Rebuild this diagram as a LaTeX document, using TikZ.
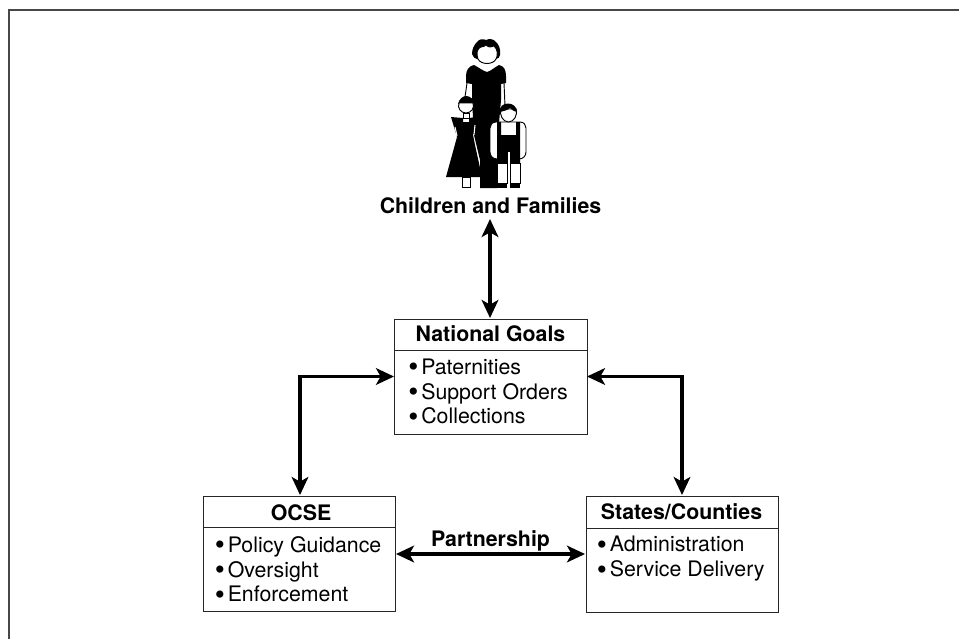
\documentclass[tikz,border=0pt]{standalone}
\usepackage{fontspec}
\setmainfont{TeX Gyre Heros}
\usetikzlibrary{arrows.meta,calc}
\newcommand{\blt}{\makebox[9.75pt][l]{\raisebox{-2pt}{\scalebox{1.35}{•}}}}
\tikzset{
  px/.style={x=0.75pt,y=-0.75pt},
  boxframe/.style={draw=black!85,line width=0.75pt,fill=white},
  link/.style={line width=2.4pt,{Stealth[length=13.5pt,width=12.5pt,inset=3.5pt]}-{Stealth[length=13.5pt,width=12.5pt,inset=3.5pt]}},
  title/.style={font=\fontsize{16}{18}\selectfont\bfseries,inner sep=0pt},
  items/.style={font=\fontsize{16}{18.6}\selectfont,inner sep=0pt,align=left,anchor=north west},
  blk/.style={fill=black,draw=none},
  wht/.style={fill=white,draw=none},
  wline/.style={fill=white,draw=black,line width=0.7pt},
}
\begin{document}
\begin{tikzpicture}[px]
\useasboundingbox (0,0) rectangle (959,639);
\fill[white] (0,0) rectangle (959,639);
\draw[black!72,line width=1.5pt] (9,639) -- (9,10) -- (959,10);

% family: mother
\path[blk] (477,42) .. controls (479,39) and (483,38.5) .. (486,40) .. controls (489,38.5) and (493,39) .. (495,41) .. controls (499,44) and (501,50) .. (500,55) .. controls (500,57) and (498,59) .. (496,59) -- (477,59) .. controls (475,59) and (473,57) .. (472,54) .. controls (472,49) and (474,45) .. (477,42) -- cycle;
\path[wline] (486,45) .. controls (489,48) and (492,47) .. (494,46) .. controls (498,49) and (498,56) .. (496,59) .. controls (493,65) and (481,65) .. (478,59) .. controls (476,54) and (477,48) .. (481,47) .. controls (483,47) and (485,46) .. (486,45) -- cycle;
\path[blk] (474,65) .. controls (478,67) and (483,71) .. (487,72) .. controls (491,71) and (495,67) .. (499,65) .. controls (504,66) and (506,70) .. (506,76) -- (506,83) -- (501,84) -- (501,100) -- (498,135) -- (497,188) -- (480,188) -- (480,160) -- (474,135) -- (472,100) -- (472,84) -- (466,83) -- (466,76) .. controls (466,70) and (469,66) .. (474,65) -- cycle;
\draw[black,line width=0.7pt] (467,83) -- (465,97);
\draw[black,line width=0.7pt] (504,83) -- (505,106);
% girl
\path[blk] (458,104) .. controls (459,99) and (463,96) .. (466,96) .. controls (470,96) and (474,99) .. (474,104) -- cycle;
\path[wline] (459,103) -- (473,103) .. controls (475,108) and (471,113) .. (466,113) .. controls (461,113) and (457,108) .. (459,103) -- cycle;
\path[blk] (451,117) -- (463,118) -- (463,122) -- (469,122) -- (469,118) -- (476,117) -- (478,125) -- (473,135) -- (475,145) -- (482,177) -- (446,177) -- (457,137) -- (454,127) -- cycle;
\path[wline] (463,113.5) rectangle (469,118);
\path[wline] (462,177) rectangle (470.5,187);
\draw[white,line width=0.8pt] (455,127) -- (457,136);
\draw[white,line width=0.8pt] (475,125) -- (474,135);
% boy
\path[wline] (496,122) -- (520,122) .. controls (524,122) and (526,125) .. (526,128) -- (526,152) .. controls (526,156) and (523,159) .. (519,159) -- (497,159) .. controls (493,159) and (490,156) .. (490,152) -- (490,128) .. controls (490,125) and (492,122) .. (496,122) -- cycle;
\path[blk] (497,122) -- (501,122) -- (501,135) -- (516,135) -- (516,122) -- (520,122) -- (520,165) -- (497,165) -- cycle;
\path[wline] (497,163) rectangle (507,183);
\path[wline] (510,163) rectangle (520,183);
\path[blk] (497,183) rectangle (507,188);
\path[blk] (510,183) rectangle (520,188);
\path[wht] (507.5,152) rectangle (509.5,188);
\path[blk] (493.5,163) rectangle (497,188);
\path[wline] (501,109) -- (516,109) .. controls (518,115) and (514,122) .. (508.5,122) .. controls (503,122) and (499,115) .. (501,109) -- cycle;
\path[blk] (500,112) .. controls (499,107) and (503,103.5) .. (508,103.5) .. controls (513,103.5) and (517,107) .. (517,112) -- (514,111) .. controls (512,110) and (511,109) .. (510,108) .. controls (508,110) and (504,111) .. (500,112) -- cycle;

\node[title] (family) at (490.5,206) {Children and Families};

% boxes
\path[boxframe] (394,319) rectangle (587,434);
\draw[black!85,line width=0.75pt] (394,350.5) -- (587,350.5);
\path[boxframe] (203,496) rectangle (395,611);
\draw[black!85,line width=0.75pt] (203,527.5) -- (395,527.5);
\path[boxframe] (586,496) rectangle (778,612);
\draw[black!85,line width=0.75pt] (586,528) -- (778,528);

\coordinate (ngW) at (394,376.5);
\coordinate (ngE) at (587,376.5);
\coordinate (ngN) at (490,318);
\coordinate (fam) at (490,219);
\coordinate (oN) at (300,495);
\coordinate (oE) at (396,554);
\coordinate (sN) at (682,495);
\coordinate (sW) at (585,554);

\node[title] (ngt) at (490.5,334) {National Goals};
\node[items] (ngi) at (408,358.5) {\blt Paternities\\\blt Support Orders\\\blt Collections};
\node[title] (ot) at (301,513) {OCSE};
\node[items] (oi) at (214.5,536) {\blt Policy Guidance\\\blt Oversight\\\blt Enforcement};
\node[title] (st) at (681.5,511.5) {States/Counties};
\node[items] (si) at (596.5,536) {\blt Administration\\\blt Service Delivery};
\node[title] (pt) at (490.5,541) {Partnership};

\draw[link] (fam) -- (ngN);
\draw[link] (ngW) -- (300,376.5) -- (oN);
\draw[link] (ngE) -- (682,376.5) -- (sN);
\draw[link] (oE) -- (sW);
\end{tikzpicture}
\end{document}
